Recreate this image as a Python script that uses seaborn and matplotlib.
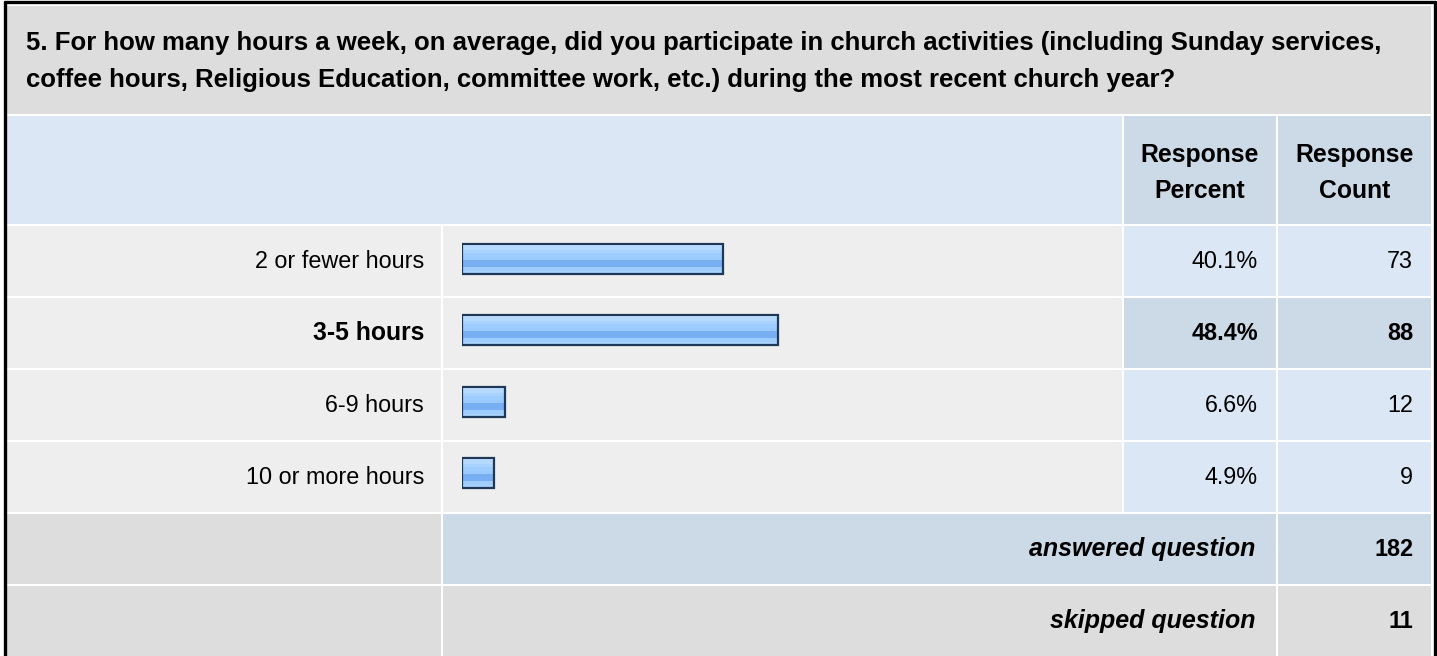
import numpy as np
import matplotlib
matplotlib.use("Agg")
import matplotlib.pyplot as plt
import seaborn as sns
from matplotlib.patches import Rectangle
from matplotlib.colors import to_rgb

# survey data
question = [
    "5. For how many hours a week, on average, did you participate in church activities (including Sunday services,",
    "coffee hours, Religious Education, committee work, etc.) during the most recent church year?",
]
answers = ["2 or fewer hours", "3-5 hours", "6-9 hours", "10 or more hours"]
percents = [40.1, 48.4, 6.6, 4.9]
counts = [73, 88, 12, 9]
answered = 182
skipped = 11

sns.set_theme(style="white")
plt.rcParams["font.family"] = ["Liberation Sans", "DejaVu Sans"]

# colours
GREY = "#dddddd"
ROW = "#eeeeee"
BLUE = "#dce7f5"
BLUE_DARK = "#ccd9e6"
TXT = "#000000"
stripes = ["#cbe4ff", "#b6d9ff", "#a9d2ff", "#9eccff", "#9acaff",
           "#78aef2", "#78aef2", "#9fcdff", "#a9d3ff"]
FS = 16.8        # plain text
FS_B = 17.8      # bold words
FS_T = 18.5      # question title

W, H = 1437, 656
fig = plt.figure(figsize=(W / 100, H / 100), dpi=100)

# background axis in pixel units, used for the table cells
bg = fig.add_axes([0, 0, 1, 1])
bg.set_xlim(0, W)
bg.set_ylim(H, 0)
bg.axis("off")


def cell(x0, x1, y0, y1, color):
    bg.add_patch(Rectangle((x0, y0), x1 - x0, y1 - y0, facecolor=color, linewidth=0))


# column / row edges
c_lab = (7, 441)
c_bar = (443, 1122)
c_pct = (1124, 1276)
c_cnt = (1278, 1431)
r_title = (6, 114)
r_head = (116, 224)
row_top = [226 + 72 * i for i in range(6)]
row_h = 70

# outer frame
bg.plot([4.5, 4.5], [2, H], color="black", lw=2.4)
bg.plot([4.5, 1434.5], [2, 2], color="black", lw=2.4)
bg.plot([1434.5, 1434.5], [2, H], color="black", lw=2.4)

# title
cell(c_lab[0], c_cnt[1], *r_title, GREY)
bg.text(26, 50, question[0], fontsize=FS_T, fontweight="bold", color=TXT, va="baseline")
bg.text(26, 87, question[1], fontsize=FS_T, fontweight="bold", color=TXT, va="baseline")

# header
cell(c_lab[0], c_bar[1], *r_head, BLUE)
cell(*c_pct, *r_head, BLUE_DARK)
cell(*c_cnt, *r_head, BLUE_DARK)
for c, word in [(c_pct, "Percent"), (c_cnt, "Count")]:
    xm = (c[0] + c[1]) / 2
    bg.text(xm, 162, "Response", fontsize=FS_B, fontweight="bold", ha="center", va="baseline", color=TXT)
    bg.text(xm, 198, word, fontsize=FS_B, fontweight="bold", ha="center", va="baseline", color=TXT)

# answer rows
top_i = int(np.argmax(percents))
for i, (lab, p, n) in enumerate(zip(answers, percents, counts)):
    y0 = row_top[i]
    y1 = y0 + row_h
    ym = (y0 + y1) / 2
    hi = i == top_i
    fw = "bold" if hi else "normal"
    cell(*c_lab, y0, y1, ROW)
    cell(*c_bar, y0, y1, ROW)
    cell(*c_pct, y0, y1, BLUE_DARK if hi else BLUE)
    cell(*c_cnt, y0, y1, BLUE_DARK if hi else BLUE)
    bg.text(424, ym, lab, fontsize=FS_B if hi else FS, fontweight=fw, ha="right", va="center", color=TXT)
    bg.text(1258, ym, f"{p:.1f}%", fontsize=FS, fontweight=fw, ha="right", va="center", color=TXT)
    bg.text(1413, ym, str(n), fontsize=FS, fontweight=fw, ha="right", va="center", color=TXT)

# answered / skipped rows
for j, (lab, n, col) in enumerate([("answered question", answered, BLUE_DARK),
                                   ("skipped question", skipped, GREY)]):
    y0 = row_top[4 + j]
    y1 = y0 + row_h
    ym = (y0 + y1) / 2
    cell(*c_lab, y0, y1, GREY)
    cell(c_bar[0], c_pct[1], y0, y1, col)
    cell(*c_cnt, y0, y1, col)
    bg.text(1255, ym, lab, fontsize=18, fontweight="bold", fontstyle="italic",
            ha="right", va="center", color=TXT)
    bg.text(1413, ym, str(n), fontsize=FS, fontweight="bold", ha="right", va="center", color=TXT)

# bars
bx = fig.add_axes([462 / W, 1 - 509 / H, 652 / W, (509 - 223) / H])
sns.barplot(x=percents, y=answers, orient="h", color=stripes[4], width=0.42,
            edgecolor="#1e3858", linewidth=1.6, ax=bx)
ylim = bx.get_ylim()
grad = np.array([to_rgb(c) for c in stripes])[:, None, :]
for patch in bx.patches:
    x0, y0 = patch.get_x(), patch.get_y()
    w, h = patch.get_width(), patch.get_height()
    im = bx.imshow(grad, extent=(x0, x0 + w, y0 + h, y0), aspect="auto",
                   interpolation="nearest", zorder=patch.get_zorder() - 0.1)
    im.set_clip_path(patch)
    patch.set_facecolor("none")
bx.set_xlim(0, 100)
bx.set_ylim(ylim)
bx.axis("off")

fig.savefig("out.png", dpi=100)
